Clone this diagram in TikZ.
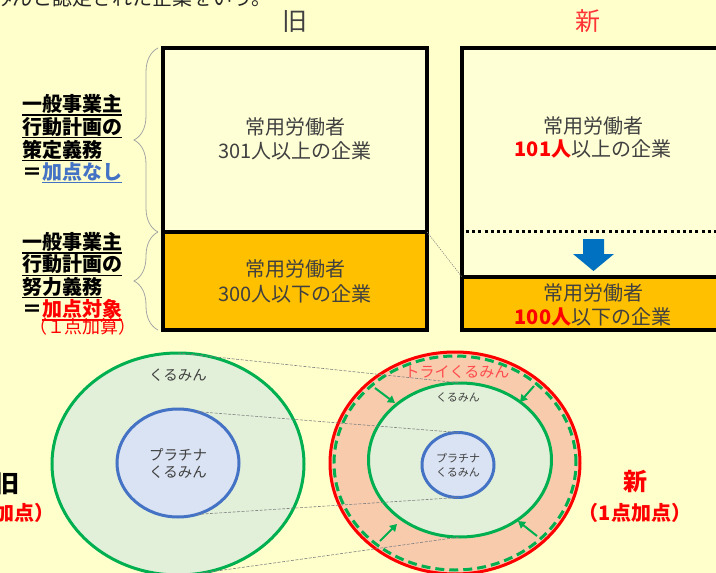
\documentclass[tikz,border=0pt]{standalone}
\usepackage{fontspec}
\setmainfont{Noto Sans CJK JP}
\usetikzlibrary{shapes.geometric,decorations.pathreplacing,arrows.meta}
\definecolor{bg}{HTML}{FFFFCC}
\definecolor{boxlight}{HTML}{FFFFD6}
\definecolor{orangeY}{HTML}{FFC000}
\definecolor{txtdark}{HTML}{404040}
\definecolor{hdred}{HTML}{FF3333}
\definecolor{lblue}{HTML}{4472C4}
\definecolor{kgreen}{HTML}{00B050}
\definecolor{kfill}{HTML}{E2F0D9}
\definecolor{pblue}{HTML}{4472C4}
\definecolor{pfill}{HTML}{DAE3F3}
\definecolor{tfill}{HTML}{F8CBAD}
\definecolor{tred}{HTML}{FF4B4B}
\definecolor{arrowblue}{HTML}{0070C0}
\definecolor{bracegray}{HTML}{A6A6A6}
\newcommand\myul[1]{\leavevmode\vtop{\hbox{#1}\kern0.6pt\hrule height 1.3pt}}
\begin{document}
\begin{tikzpicture}[x=1pt,y=-1pt,
  bx/.style={draw=black, line width=4pt, inner sep=0pt, outer sep=0pt},
  boxtxt/.style={align=center, text=txtdark, inner sep=0pt},
  lbl/.style={align=left, inner sep=0pt, anchor=west, font=\fontsize{20}{22.6}\selectfont\bfseries},
  ell/.style={ellipse, line width=3pt, inner sep=0pt, outer sep=0pt},
  brc/.style={draw=bracegray, line width=0.8pt, decorate, decoration={brace, amplitude=24pt, aspect=0.5}},
  garrow/.style={draw=kgreen, line width=2pt, -{Triangle[length=7pt,width=8pt]}},
  link/.style={draw=gray, line width=0.6pt, dash pattern=on 3pt off 1.5pt},
  ctxt/.style={align=center, text=txtdark, inner sep=0pt}
]
\useasboundingbox (0,0) rectangle (716,573);
\clip (0,0) rectangle (716,573);
\fill[bg] (0,0) rectangle (716,573);

% intro line (clipped at top)
\node[font=\fontsize{20}{24}\selectfont, text=black!85, anchor=base east, inner sep=0pt] (intro) at (272,5.5) {くるみんと認定された企業をいう。};

% headers
\node[font=\fontsize{25}{28}\selectfont, text=txtdark] (hold) at (295,21) {旧};
\node[font=\fontsize{25}{28}\selectfont, text=hdred] (hnew) at (588,21) {新};

% old boxes
\node[bx, fill=boxlight, minimum width=264pt, minimum height=184pt] (oldtop) at (295,140) {};
\node[bx, fill=orangeY, minimum width=264pt, minimum height=98pt] (oldbot) at (295,281) {};
\node[boxtxt, font=\fontsize{20}{24}\selectfont] (oldtoptxt) at (295,139) {常用労働者\\301人以上の企業};
\node[boxtxt, font=\fontsize{20}{25}\selectfont] (oldbottxt) at (295,281) {常用労働者\\300人以下の企業};

% new boxes
\node[bx, fill=boxlight, minimum width=338pt, minimum height=229pt] (newtop) at (631,162.5) {};
\node[bx, fill=orangeY, minimum width=338pt, minimum height=53pt] (newbot) at (631,303.5) {};
\node[boxtxt, font=\fontsize{20}{22.5}\selectfont] (newtoptxt) at (593,137.5) {常用労働者\\\textcolor{red}{\bfseries 101人}以上の企業};
\node[boxtxt, font=\fontsize{20}{24}\selectfont] (newbottxt) at (593,305) {常用労働者\\\textcolor{red}{\bfseries 100人}以下の企業};

% dotted separation line and blue arrow
\coordinate (dotL) at (466,231);
\coordinate (dotR) at (716,231);
\draw[line width=3pt, dash pattern=on 3pt off 3.2pt] (dotL) -- (dotR);
\fill[arrowblue] (583,239) -- (604,239) -- (604,254) -- (614,254) -- (593.5,271) -- (573,254) -- (583,254) -- cycle;

% thin dotted link between boxes
\draw[gray, line width=0.6pt, dash pattern=on 1.2pt off 1.2pt] (oldbot.north east) -- (newbot.north west);

% braces
\draw[brc] ([xshift=-5pt]oldtop.south west) -- ([xshift=-5pt]oldtop.north west);
\draw[brc] ([xshift=-5pt]oldbot.south west) -- ([xshift=-5pt]oldbot.north west);

% left labels
\node[lbl] (lab1) at (22,139) {\myul{一般事業主}\\\myul{行動計画の}\\\myul{策定義務}\\＝\textcolor{lblue}{\myul{加点なし}}};
\node[lbl, font=\fontsize{20}{22.3}\selectfont\bfseries] (lab2) at (22,276.5) {\myul{一般事業主}\\\myul{行動計画の}\\\myul{努力義務}\\＝\textcolor{red}{\myul{加点対象}}};
\node[font=\fontsize{18}{20}\selectfont, text=red, inner sep=0pt] (lab2b) at (83,327) {（１点加算）};

% old circles
\node[ell, draw=kgreen, fill=kfill, minimum width=252pt, minimum height=222pt] (oldbig) at (178,464) {};
\node[ell, draw=pblue, fill=pfill, minimum width=122pt, minimum height=108pt] (oldplat) at (178,463) {};
\node[ctxt, font=\fontsize{14.5}{17}\selectfont] (oldbigtxt) at (178,375) {くるみん};
\node[ctxt, font=\fontsize{14.5}{17}\selectfont] (oldplattxt) at (178,463.5) {プラチナ\\くるみん};

% new circles
\node[ell, draw=red, fill=tfill, minimum width=250pt, minimum height=222pt] (newbig) at (455,463) {};
\node[ell, draw=kgreen, dash pattern=on 9pt off 5pt, minimum width=242pt, minimum height=214pt] (newdash) at (455,463) {};
\node[ell, draw=kgreen, fill=kfill, minimum width=183pt, minimum height=154pt] (newmid) at (460,460) {};
\node[ell, draw=pblue, fill=pfill, minimum width=72pt, minimum height=65pt] (newplat) at (458,465) {};
\node[ctxt, text=tred, font=\fontsize{15}{18}\selectfont] (newbigtxt) at (457,372) {トライくるみん};
\node[ctxt, font=\fontsize{11}{14}\selectfont] (newmidtxt) at (458,397) {くるみん};
\node[ctxt, font=\fontsize{11}{14}\selectfont] (newplattxt) at (458,465) {プラチナ\\くるみん};

% green inward arrows
\coordinate (a1s) at (375,388); \coordinate (a1e) at (395,403);
\coordinate (a2s) at (534,386); \coordinate (a2e) at (520,402);
\coordinate (a3s) at (380,541); \coordinate (a3e) at (397,524);
\coordinate (a4s) at (537,536); \coordinate (a4e) at (518,521);
\draw[garrow] (a1s) -- (a1e);
\draw[garrow] (a2s) -- (a2e);
\draw[garrow] (a3s) -- (a3e);
\draw[garrow] (a4s) -- (a4e);

% dashed links between circles
\draw[link] (oldbig.north) -- (newmid.north);
\draw[link] (oldplat.70) -- (newplat.north);
\draw[link] (oldplat.-70) -- (newplat.south);
\draw[link] (oldbig.-80) -- (newmid.south);

% side labels
\node[font=\fontsize{24}{28}\selectfont\bfseries, text=red] (newlbl) at (635,482) {新};
\node[font=\fontsize{20}{24}\selectfont\bfseries, text=red] (newlbl2) at (635,513) {（1点加点）};
\node[font=\fontsize{24}{28}\selectfont\bfseries, text=black] (oldlbl) at (7,484) {旧};
\node[font=\fontsize{20}{24}\selectfont\bfseries, text=red] (oldlbl2) at (-2,513) {（1点加点）};
\end{tikzpicture}
\end{document}
